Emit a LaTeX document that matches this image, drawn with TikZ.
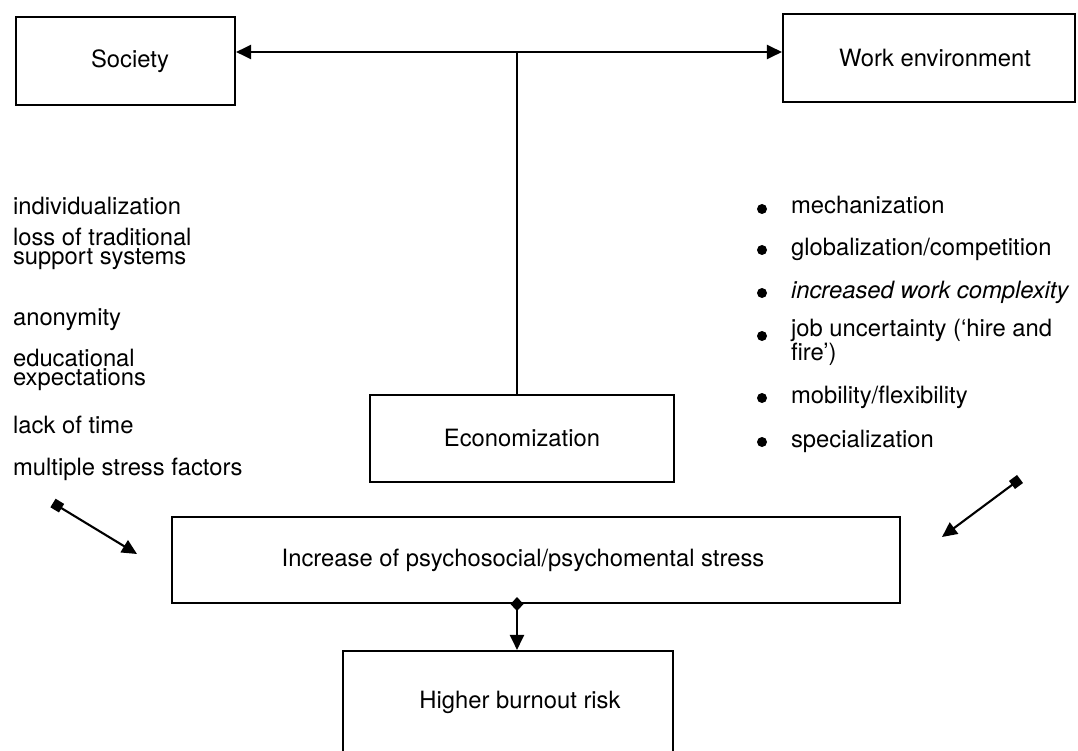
\documentclass[tikz,border=0pt]{standalone}
\usepackage{fontspec}
\setmainfont{TeX Gyre Heros}
\usetikzlibrary{arrows.meta}
\tikzset{
  tri/.tip={Triangle[length=15pt, width=14pt]},
  sqtip/.tip={Square[length=10pt, width=10pt]},
  diatip/.tip={Diamond[length=14pt, width=13pt]}}
\begin{document}
\begin{tikzpicture}[x=1pt,y=-1pt,
  line width=2.1pt,
  every node/.style={font=\fontsize{23.8}{19}\selectfont},
  box/.style={draw, line width=2.1pt, inner sep=0pt},
  item/.style={anchor=base west, align=left, inner sep=0pt},
  dot/.style={fill, circle, inner sep=0pt, minimum size=10pt}]
\useasboundingbox (0,0) rectangle (1078,751);
\clip (0,0) rectangle (1078,751);

% boxes
\node[box, minimum width=219pt, minimum height=88pt] (society) at (125.5,61) {};
\node (societytext) at (130,61) {Society};
\node[box, minimum width=292pt, minimum height=88pt] (work) at (929,58) {};
\node (worktext) at (935,58) {Work environment};
\node[box, minimum width=304pt, minimum height=87pt] (econ) at (522,438.5) {Economization};
\node[box, minimum width=728pt, minimum height=86pt] (stress) at (536,560) {};
\node (stresstext) at (523,560) {Increase of psychosocial/psychomental stress};
\node[box, minimum width=330pt, minimum height=106pt] (risk) at (508,704) {};
\node[anchor=base, inner sep=0pt] (risktext) at (520,708) {Higher burnout risk};

% connectors
\coordinate (hub) at (517,52);
\draw[tri-tri] (society.east |- hub) -- (work.west |- hub);
\draw (hub) -- (hub |- econ.north);
\draw[diatip-tri] ([yshift=7pt]hub |- stress.south) -- (hub |- risk.north);

\coordinate (sqL) at (53,503);
\coordinate (tipL) at (137,554);
\draw[sqtip-tri] (sqL) -- (tipL);
\coordinate (sqR) at (1020,479);
\coordinate (tipR) at (942,537);
\draw[sqtip-tri] (sqR) -- (tipR);

% society factors
\node[item] (s1) at (12,215) {individualization};
\node[item] (s2) at (12,265) {loss of traditional\\support systems};
\node[item] (s3) at (12,325) {anonymity};
\node[item] (s4) at (12,385) {educational\\expectations};
\node[item] (s5) at (12,433) {lack of time};
\node[item] (s6) at (12,475) {multiple stress factors};

% work environment factors
\node[item] (w1) at (790,214) {mechanization};
\node[item] (w2) at (790,255) {globalization/competition};
\node[item] (w3) at (790,298) {\itshape increased work complexity};
\node[item] (w4) at (790,360) {job uncertainty (‘hire and\\fire’)};
\node[item] (w5) at (790,403) {mobility/flexibility};
\node[item] (w6) at (790,447) {specialization};
\foreach \w/\dy in {w1/5,w2/5,w3/5,w4/24,w5/5,w6/5}
  \node[dot] at ([xshift=-28pt,yshift=\dy pt]\w.base west) {};
\end{tikzpicture}
\end{document}
